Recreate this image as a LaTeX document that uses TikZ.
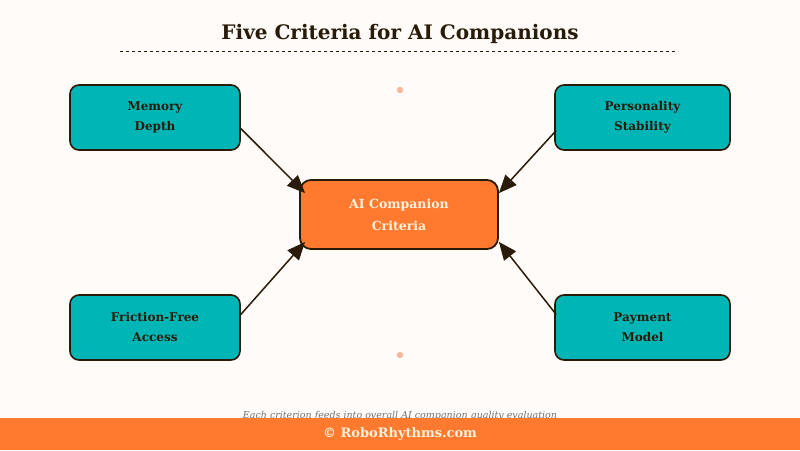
\documentclass[tikz,border=0pt]{standalone}
\usepackage{fontspec}
\setmainfont{DejaVu Serif}
\usetikzlibrary{arrows.meta,calc}
\definecolor{bg}{HTML}{FFFBF8}
\definecolor{teal}{HTML}{00B5B5}
\definecolor{orng}{HTML}{FF7A2E}
\definecolor{dark}{HTML}{2A1A08}
\definecolor{dotc}{HTML}{F6B89A}
\definecolor{cream}{HTML}{FFF1DC}
\tikzset{
 crit/.style={draw=dark,line width=1.6pt,fill=teal,rounded corners=9pt,minimum height=65pt,align=center,font=\bfseries\fontsize{12}{20}\selectfont,text=dark},
 hub/.style={draw=dark,line width=1.8pt,fill=orng,rounded corners=11pt,minimum width=198pt,minimum height=69pt,align=center,font=\bfseries\fontsize{12.5}{22}\selectfont,text=cream},
 conn/.style={draw=dark,line width=1.5pt,-{Triangle[length=18pt,width=15pt]}}
}
\begin{document}
\begin{tikzpicture}[x=1pt,y=-1pt]
\fill[bg] (0,0) rectangle (800,450);
\useasboundingbox (0,0) rectangle (800,450);
\node[font=\bfseries\fontsize{20}{24}\selectfont,text=dark] (title) at (400,34) {Five Criteria for AI Companions};
\draw[dark,dashed,line width=0.9pt] (120,51) -- (678,51);
\fill[dotc] (400,90) circle (3.2);
\fill[dotc] (400,355) circle (3.2);
\node[hub] (c) at (399,214.5) {AI Companion\\Criteria};
\node[crit,minimum width=170pt] (m) at (155,117.5) {Memory\\Depth};
\node[crit,minimum width=175pt] (p) at (642.5,117.5) {Personality\\Stability};
\node[crit,minimum width=170pt] (f) at (155,327.5) {Friction-Free\\Access};
\node[crit,minimum width=175pt] (y) at (642.5,327.5) {Payment\\Model};
\coordinate (ma) at ($(m.east)+(0,11)$);
\coordinate (pa) at ($(p.west)+(2,13)$);
\coordinate (fa) at ($(f.east)+(0,-13)$);
\coordinate (ya) at ($(y.west)+(2,-13)$);
\draw[conn] (ma) -- ($(c.north west)+(6,14)$);
\draw[conn] (pa) -- ($(c.north east)+(0,14)$);
\draw[conn] (fa) -- ($(c.south west)+(6,-8)$);
\draw[conn] (ya) -- ($(c.south east)+(0,-8)$);
\node[font=\itshape\fontsize{9.5}{11}\selectfont,text=black!55] (cap) at (400,416) {Each criterion feeds into overall AI companion quality evaluation};
\fill[orng] (0,418) rectangle (800,450);
\node[font=\bfseries\fontsize{13}{15}\selectfont,text=cream] (foot) at (400,434) {© RoboRhythms.com};
\end{tikzpicture}
\end{document}
